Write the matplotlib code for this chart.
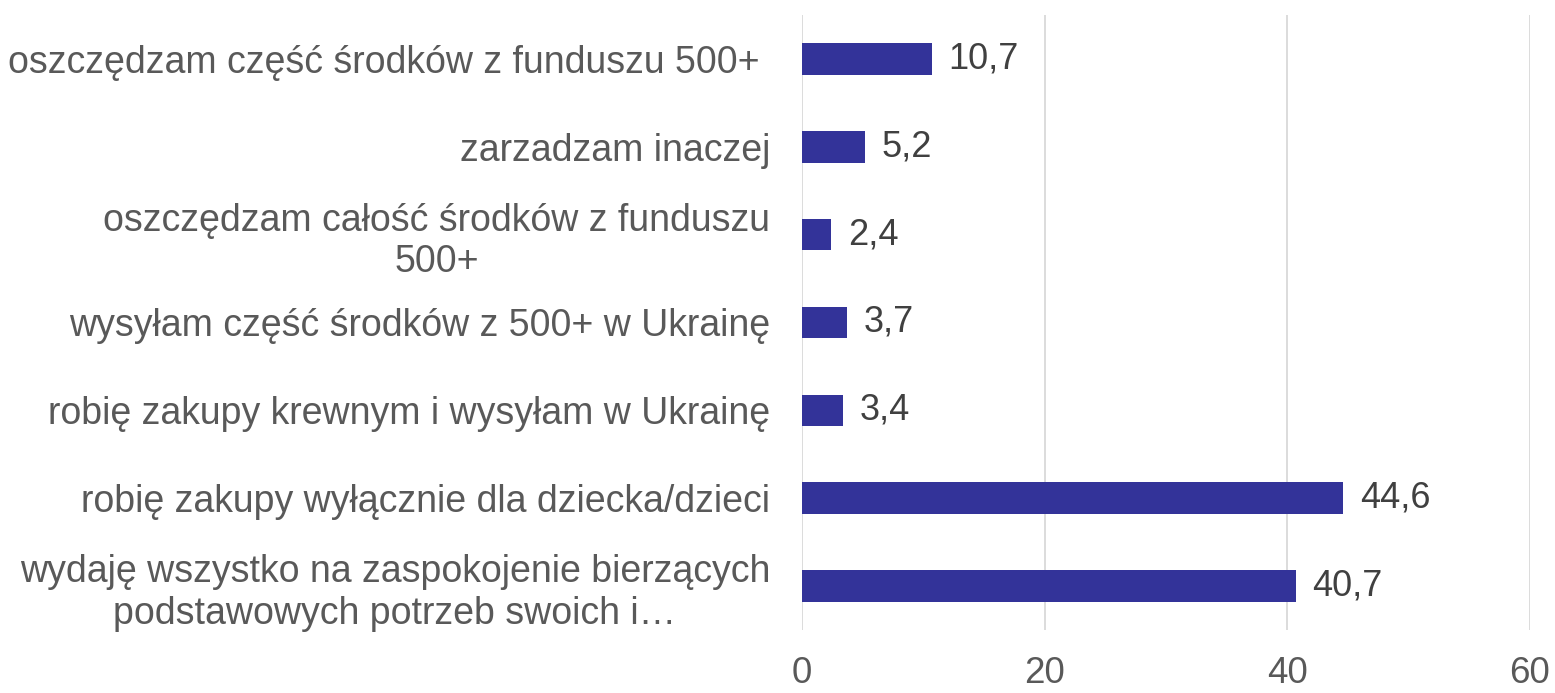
import matplotlib.pyplot as plt

# Categories (top to bottom) and their values in percent
categories = [
    "oszczędzam część środków z funduszu 500+ ",
    "zarzadzam inaczej",
    "oszczędzam całość środków z funduszu\n500+",
    "wysyłam część środków z 500+ w Ukrainę",
    "robię zakupy krewnym i wysyłam w Ukrainę",
    "robię zakupy wyłącznie dla dziecka/dzieci",
    "wydaję wszystko na zaspokojenie bierzących\npodstawowych potrzeb swoich i…",
]
values = [10.7, 5.2, 2.4, 3.7, 3.4, 44.6, 40.7]
x_ticks = [0, 20, 40, 60]

plt.rcParams["font.family"] = ["Liberation Sans", "DejaVu Sans"]

fig = plt.figure(figsize=(15.55, 6.93), dpi=100)
ax = fig.add_axes([0.5158, 0.0909, 0.4681, 0.8875])

pos = list(range(len(categories)))
bars = ax.barh(pos, values, height=0.36, color="#333399", zorder=3)

# value labels with comma as decimal separator
ax.bar_label(bars, labels=[f"{v:.1f}".replace(".", ",") for v in values],
             padding=12, fontsize=26, color="#404040")

ax.set_yticks(pos)
ax.set_yticklabels(categories, fontsize=27, color="#595959", multialignment="center")
ax.set_ylim(len(categories) - 0.5, -0.5)

ax.set_xlim(0, 60)
ax.set_xticks(x_ticks)
ax.set_xticklabels([str(t) for t in x_ticks], fontsize=26.5, color="#595959")

ax.tick_params(axis="y", length=0, pad=23)
ax.tick_params(axis="x", length=0, pad=19)

ax.grid(axis="x", color="#d9d9d9", linewidth=1.3, zorder=0)
for side in ["top", "right", "bottom", "left"]:
    ax.spines[side].set_visible(False)

fig.savefig("out.png", dpi=100)
